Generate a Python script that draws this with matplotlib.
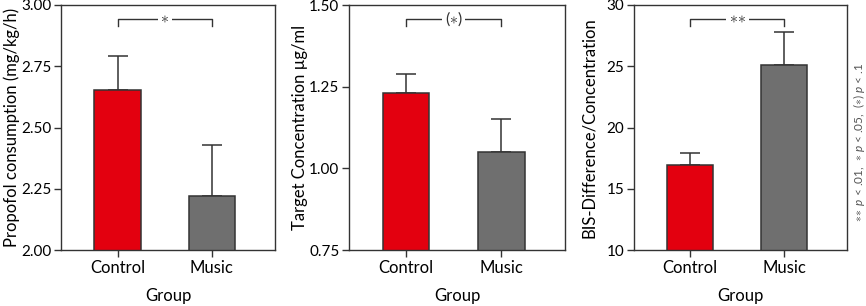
import matplotlib

matplotlib.use("Agg")

import matplotlib.pyplot as plt
import matplotlib.transforms as mtransforms

plt.rcParams["font.family"] = ["Lato", "DejaVu Sans"]
plt.rcParams["mathtext.fontset"] = "custom"
plt.rcParams["mathtext.rm"] = "Lato"
plt.rcParams["mathtext.it"] = "Lato:italic"

# 三个面板的数据
groups = ["Control", "Music"]

propofol_mean = [2.655, 2.22]
propofol_err = [0.135, 0.21]

target_mean = [1.23, 1.05]
target_err = [0.06, 0.10]

bis_mean = [16.9, 25.1]
bis_err = [1.0, 2.7]

y_labels = [
    "Propofol consumption (mg/kg/h)",
    "Target Concentration \u00b5g/ml",
    "BIS-Difference/Concentration",
]
y_limits = [(2.0, 3.0), (0.75, 1.5), (10, 30)]
y_ticks = [
    [2.00, 2.25, 2.50, 2.75, 3.00],
    [0.75, 1.00, 1.25, 1.50],
    [10, 15, 20, 25, 30],
]
tick_fmt = ["{:.2f}", "{:.2f}", "{:.0f}"]
sig_marks = [r"$\ast$", r"($\ast$)", r"$\ast\!\ast$"]

bar_colors = ["#E3000F", "#6F6F6F"]
edge_color = "#333333"

fig = plt.figure(figsize=(8.66, 3.06), dpi=100)

# 各面板坐标轴位置（像素）与 y 轴标签右边缘位置
panel_lefts = [61, 349, 634]
panel_widths = [214, 216, 213]
label_right = [20, 308, 597]

means_all = [propofol_mean, target_mean, bis_mean]
errs_all = [propofol_err, target_err, bis_err]

for i in range(3):
    ax = fig.add_axes([panel_lefts[i] / 866, 56 / 306, panel_widths[i] / 866, 245 / 306])
    x = [0, 1]
    ax.bar(
        x,
        means_all[i],
        width=0.49,
        color=bar_colors,
        edgecolor=edge_color,
        linewidth=1.1,
        zorder=2,
    )
    ax.errorbar(
        x,
        means_all[i],
        yerr=[[0, 0], errs_all[i]],
        fmt="none",
        ecolor=edge_color,
        elinewidth=1.1,
        capsize=7.5,
        capthick=1.1,
        zorder=1,
    )
    ax.set_xlim(-0.6, 1.67)
    ax.set_ylim(*y_limits[i])
    ax.set_xticks(x)
    ax.set_xticklabels(groups, fontsize=12)
    ax.set_yticks(y_ticks[i])
    ax.set_yticklabels([tick_fmt[i].format(v) for v in y_ticks[i]], fontsize=11)
    ax.set_ylabel(y_labels[i], fontsize=12)
    ax.yaxis.set_label_coords((label_right[i] - panel_lefts[i]) / panel_widths[i], 0.5)
    ax.set_xlabel("Group", fontsize=12, labelpad=9)
    ax.tick_params(direction="out", length=5, width=1.0, color=edge_color, pad=2)
    for spine in ax.spines.values():
        spine.set_color(edge_color)
        spine.set_linewidth(1.0)
        spine.set_zorder(5)

    # 显著性括号
    trans = mtransforms.blended_transform_factory(ax.transData, ax.transAxes)
    ax.plot(
        [0, 0, 1, 1],
        [0.914, 0.943, 0.943, 0.914],
        color=edge_color,
        linewidth=1.0,
        transform=trans,
        clip_on=False,
    )
    ax.text(
        0.5,
        0.943,
        sig_marks[i],
        transform=trans,
        ha="center",
        va="center",
        fontsize=11.5,
        color=edge_color,
        bbox=dict(facecolor="white", edgecolor="none", pad=2),
        zorder=4,
    )

fig.text(
    859 / 866,
    0.536,
    r"$\ast\!\ast$ $p$ < .01,  $\ast$ $p$ < .05,  ($\ast$) $p$ < .1",
    rotation=90,
    ha="center",
    va="center",
    fontsize=8.5,
    color="#555555",
)

fig.savefig("out.png", dpi=100)
